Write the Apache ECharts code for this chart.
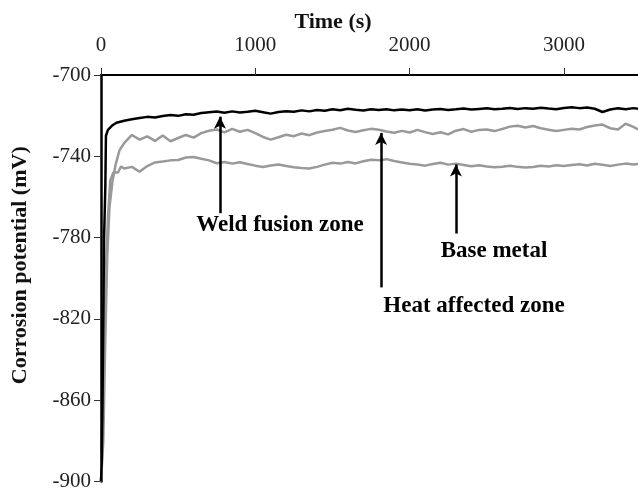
<!DOCTYPE html>
<html>
<head>
<meta charset="utf-8">
<script src="https://cdn.jsdelivr.net/npm/echarts@6/dist/echarts.min.js"></script>
<style>
  html, body { margin: 0; padding: 0; background: #fff; }
  #chart { width: 638px; height: 492px; }
</style>
</head>
<body>
<div id="chart"></div>
<script>
// 时间轴 (s) - 稳定段的采样点
const timeGrid = [150, 200, 250, 300, 350, 400, 450, 500, 550, 600, 650, 700, 750, 800, 850, 900, 950, 1000,
  1050, 1100, 1150, 1200, 1250, 1300, 1350, 1400, 1450, 1500, 1550, 1600, 1650, 1700, 1750, 1800, 1850, 1900,
  1950, 2000, 2050, 2100, 2150, 2200, 2250, 2300, 2350, 2400, 2450, 2500, 2550, 2600, 2650, 2700, 2750, 2800,
  2850, 2900, 2950, 3000, 3050, 3100, 3150, 3200, 3250, 3300, 3350, 3400, 3450, 3480];

// 起始段 (快速上升)
const weldEarlyT = [0, 5, 10, 15, 20, 28, 32, 45, 70, 100];
const weldEarlyV = [-900, -890, -860, -820, -780, -755, -730, -727, -725, -723.5];
const hazEarlyT = [0, 15, 25, 40, 55, 75, 95, 120];
const hazEarlyV = [-900, -880, -840, -790, -765, -752, -744, -737];
const baseEarlyT = [0, 10, 20, 30, 45, 60, 80, 110, 130];
const baseEarlyV = [-900, -880, -840, -800, -770, -752, -748, -748, -745];

// Weld fusion zone
const weldV = [-722.5, -721.8, -721.2, -720.6, -720.9, -720.2, -719.7, -720.1, -719.3, -719.6, -718.7, -718.3,
  -718.0, -718.6, -717.9, -718.4, -718.1, -717.6, -718.3, -719.0, -718.2, -717.8, -718.1, -717.4, -717.9, -717.2,
  -717.6, -716.9, -717.3, -716.6, -717.1, -717.5, -716.9, -717.2, -716.8, -717.4, -717.0, -717.3, -716.9, -717.5,
  -717.0, -716.7, -717.2, -716.9, -716.5, -717.0, -716.7, -716.4, -716.9, -716.6, -716.2, -716.7, -716.3, -716.6,
  -716.1, -716.5, -716.8, -716.2, -715.9, -716.3, -716.0, -716.6, -718.2, -717.0, -716.4, -716.8, -716.3, -716.6];

// Heat affected zone
const hazV = [-733.5, -729.5, -731.8, -730.2, -732.4, -729.8, -732.6, -731.0, -729.5, -730.8, -728.6, -727.4,
  -726.8, -728.2, -726.5, -727.9, -727.0, -728.6, -730.5, -731.8, -730.6, -729.4, -730.1, -728.8, -729.6, -728.3,
  -727.6, -726.9, -726.0, -727.3, -728.0, -727.2, -726.5, -726.9, -727.8, -728.4, -727.5, -728.3, -727.0, -728.1,
  -729.0, -728.2, -729.2, -727.4, -726.6, -727.9, -727.0, -726.8, -727.6, -726.6, -725.4, -725.0, -725.8, -725.1,
  -726.2, -726.9, -727.6, -727.0, -726.4, -726.8, -725.6, -724.8, -724.4, -726.2, -726.8, -724.0, -725.5, -726.8];

// Base metal
const baseV = [-746.0, -745.2, -747.6, -744.8, -743.0, -742.6, -742.0, -741.8, -740.6, -740.3, -741.2, -742.0,
  -743.4, -742.8, -743.6, -742.9, -743.8, -744.6, -745.3, -744.5, -744.0, -744.8, -745.4, -745.8, -746.0, -745.2,
  -744.1, -743.2, -743.6, -742.8, -743.5, -742.4, -741.7, -742.0, -741.4, -742.3, -743.0, -743.7, -744.0, -744.6,
  -743.8, -743.2, -744.1, -743.6, -744.3, -744.9, -744.4, -745.0, -745.4, -745.1, -744.6, -745.2, -745.5, -745.3,
  -744.7, -745.0, -744.4, -744.8, -744.3, -743.9, -744.5, -743.7, -744.2, -744.8, -744.1, -743.6, -744.0, -743.8];

// 注释 (箭头起点/终点, 文字位置)
const notes = [
  { name: 'Weld fusion zone', t: 771, from: -768, to: -720.5, textT: 1160, textV: -774 },
  { name: 'Heat affected zone', t: 1815, from: -804.5, to: -728.5, textT: 2417, textV: -813.5 },
  { name: 'Base metal', t: 2300, from: -778, to: -744, textT: 2547, textV: -786.5 }
];

function pairs(earlyT, earlyV, vals) {
  const out = earlyT.map((t, i) => [t, earlyV[i]]);
  timeGrid.forEach((t, i) => out.push([t, vals[i]]));
  return out;
}

const font = 'Liberation Serif, Times New Roman, serif';
const chart = echarts.init(document.getElementById('chart'));

const option = {
  animation: false,
  backgroundColor: '#fff',
  grid: { left: 101, top: 75, right: 0, bottom: 5 },
  graphic: [{
    type: 'text',
    x: 333, y: 22,
    style: { text: 'Time (s)', font: 'bold 22px ' + font, fill: '#111', textAlign: 'center', textVerticalAlign: 'middle' }
  }],
  xAxis: {
    type: 'value',
    position: 'top',
    min: 0, max: 3480, interval: 1000,
    axisLine: { lineStyle: { color: '#000', width: 2 } },
    axisTick: { show: true, inside: false, length: 7, lineStyle: { color: '#333', width: 1 } },
    axisLabel: {
      color: '#222', fontFamily: font, fontSize: 21, margin: 19, showMaxLabel: false,
      formatter: v => String(v)
    },
    splitLine: { show: false }
  },
  yAxis: {
    type: 'value',
    min: -900, max: -700, interval: 40,
    name: 'Corrosion potential (mV)',
    nameLocation: 'middle',
    nameGap: 70,
    nameTextStyle: { fontFamily: font, fontSize: 22, fontWeight: 'bold', color: '#111', padding: [0, 0, 0, 26] },
    axisLine: { show: true, lineStyle: { color: '#000', width: 2.5 } },
    axisTick: { show: true, inside: false, length: 7, lineStyle: { color: '#333', width: 1 } },
    axisLabel: { color: '#222', fontFamily: font, fontSize: 21, margin: 10 },
    splitLine: { show: false }
  },
  series: [
    {
      name: 'Base metal', type: 'line', showSymbol: false,
      data: pairs(baseEarlyT, baseEarlyV, baseV),
      lineStyle: { color: '#999', width: 2.5 }
    },
    {
      name: 'Heat affected zone', type: 'line', showSymbol: false,
      data: pairs(hazEarlyT, hazEarlyV, hazV),
      lineStyle: { color: '#999', width: 2.5 }
    },
    {
      name: 'Weld fusion zone', type: 'line', showSymbol: false,
      data: pairs(weldEarlyT, weldEarlyV, weldV),
      lineStyle: { color: '#000', width: 2.5 },
      markLine: {
        silent: true,
        symbol: ['none', 'arrow'],
        symbolSize: [9, 12],
        label: { show: false },
        lineStyle: { color: '#000', width: 2.5, type: 'solid' },
        data: notes.map(n => [{ coord: [n.t, n.from] }, { coord: [n.t, n.to] }])
      },
      markPoint: {
        silent: true,
        symbol: 'circle',
        symbolSize: 0,
        label: {
          show: true, position: 'inside', formatter: '{b}',
          fontFamily: font, fontSize: 23, fontWeight: 'bold', color: '#000'
        },
        data: notes.map(n => ({ name: n.name, coord: [n.textT, n.textV] }))
      }
    }
  ]
};

chart.setOption(option);
</script>
</body>
</html>
